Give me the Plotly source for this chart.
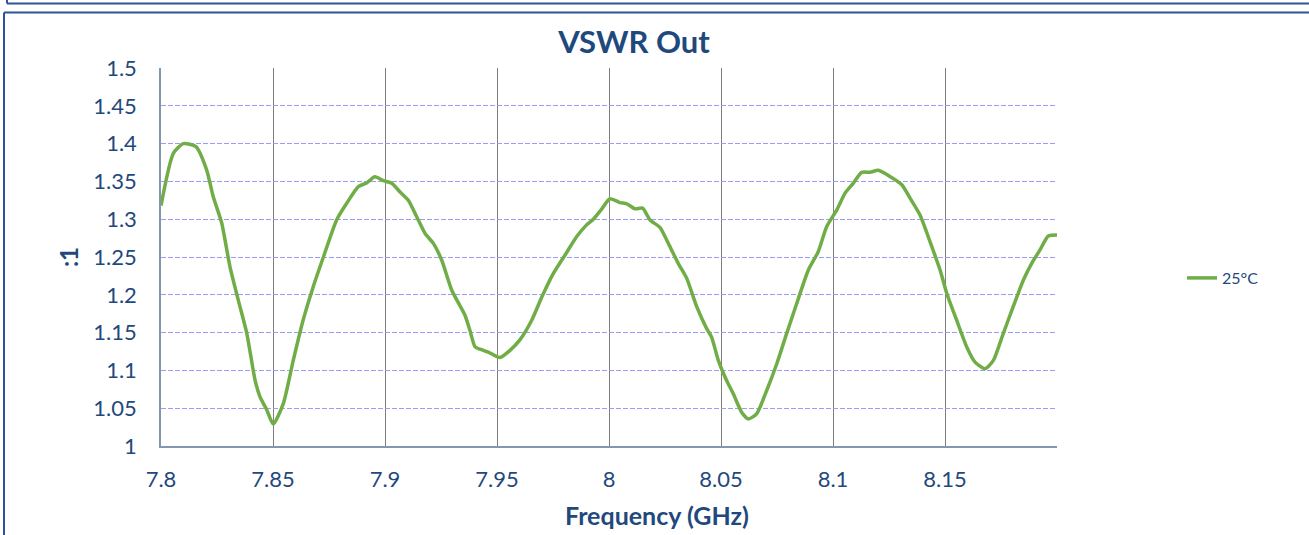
import plotly.graph_objects as go

# ---- data ----
freq_ghz = [7.8000, 7.8055, 7.8100, 7.8156, 7.8204, 7.8233, 7.8271, 7.8308, 7.8345, 7.8383,
            7.8420, 7.8442, 7.8472, 7.8501, 7.8546, 7.8591, 7.8635, 7.8680, 7.8725, 7.8784,
            7.8829, 7.8881, 7.8918, 7.8955, 7.8992, 7.9030, 7.9067, 7.9104, 7.9142, 7.9179,
            7.9216, 7.9253, 7.9298, 7.9357, 7.9379, 7.9402, 7.9424, 7.9469, 7.9513, 7.9558,
            7.9603, 7.9655, 7.9700, 7.9751, 7.9804, 7.9856, 7.9900, 7.9930, 7.9967, 8.0004,
            8.0049, 8.0079, 8.0116, 8.0150, 8.0183, 8.0228, 8.0272, 8.0309, 8.0347, 8.0392,
            8.0436, 8.0458, 8.0488, 8.0525, 8.0555, 8.0592, 8.0622, 8.0659, 8.0704, 8.0749,
            8.0793, 8.0838, 8.0890, 8.0934, 8.0972, 8.1017, 8.1054, 8.1091, 8.1128, 8.1165,
            8.1202, 8.1254, 8.1307, 8.1344, 8.1388, 8.1433, 8.1478, 8.1508, 8.1552, 8.1597,
            8.1634, 8.1679, 8.1716, 8.1760, 8.1804, 8.1850, 8.1887, 8.1924, 8.1961, 8.2000]
vswr_25c = [1.318, 1.387, 1.400, 1.396, 1.365, 1.330, 1.295, 1.237, 1.193, 1.149,
            1.087, 1.065, 1.048, 1.029, 1.056, 1.114, 1.167, 1.211, 1.250, 1.299,
            1.321, 1.343, 1.348, 1.356, 1.351, 1.3475, 1.336, 1.325, 1.303, 1.281,
            1.268, 1.246, 1.206, 1.173, 1.153, 1.131, 1.128, 1.123, 1.117, 1.1265,
            1.1407, 1.1664, 1.197, 1.228, 1.2527, 1.277, 1.2925, 1.300, 1.3133, 1.327,
            1.322, 1.3204, 1.3137, 1.3146, 1.299, 1.289, 1.2637, 1.2416, 1.2217, 1.184,
            1.1553, 1.144, 1.1133, 1.0867, 1.069, 1.0447, 1.0358, 1.0425, 1.0734, 1.1088,
            1.1487, 1.1885, 1.2327, 1.257, 1.2903, 1.3124, 1.3345, 1.3478, 1.362, 1.362,
            1.3646, 1.3566, 1.3456, 1.3279, 1.3058, 1.2704, 1.2327, 1.2018, 1.1664, 1.131,
            1.111, 1.1022, 1.1133, 1.1487, 1.184, 1.2195, 1.2416, 1.2593, 1.2779, 1.2792]
x_tick_vals = [7.8, 7.85, 7.9, 7.95, 8.0, 8.05, 8.1, 8.15]
x_tick_text = ["7.8", "7.85", "7.9", "7.95", "8", "8.05", "8.1", "8.15"]
y_tick_vals = [1.0, 1.05, 1.1, 1.15, 1.2, 1.25, 1.3, 1.35, 1.4, 1.45, 1.5]
y_tick_text = ["1", "1.05", "1.1", "1.15", "1.2", "1.25", "1.3", "1.35", "1.4", "1.45", "1.5"]
series_name = "25°C"
chart_title = "VSWR Out"
x_title = "Frequency (GHz)"
y_title = ":1"

# ---- styling ----
W, H = 1309, 535
L, R, T, B = 161, 1057, 68, 446
FONT = "Lato"
TXT = "#1F497D"
GREEN = "#70AD47"

fig = go.Figure()
fig.add_trace(go.Scatter(
    x=freq_ghz, y=vswr_25c, mode="lines", name=series_name,
    line=dict(color=GREEN, width=3.5, shape="spline", smoothing=0.6),
))

def px2x(px):
    return (px - L) / (R - L)

def py2y(py):
    return (B - py) / (B - T)

frame_color = "#2F5597"
shapes = [
    # previous chart box (bottom edge)
    dict(type="line", xref="paper", yref="paper", x0=px2x(7), x1=px2x(1320), y0=py2y(3.5), y1=py2y(3.5),
         line=dict(color=frame_color, width=2)),
    dict(type="line", xref="paper", yref="paper", x0=px2x(7), x1=px2x(7), y0=py2y(-5), y1=py2y(3.5),
         line=dict(color=frame_color, width=2)),
    # current chart box
    dict(type="line", xref="paper", yref="paper", x0=px2x(4), x1=px2x(1320), y0=py2y(12.5), y1=py2y(12.5),
         line=dict(color=frame_color, width=2)),
    dict(type="line", xref="paper", yref="paper", x0=px2x(4), x1=px2x(4), y0=py2y(12.5), y1=py2y(545),
         line=dict(color=frame_color, width=2)),
]

annotations = [
    dict(text=f"<b>{x_title}</b>", xref="paper", yref="paper", x=px2x(657), y=py2y(515),
         xanchor="center", yanchor="middle", showarrow=False,
         font=dict(size=25, color=TXT, family=FONT)),
]

fig.update_layout(
    width=W, height=H,
    margin=dict(l=L, r=W - R, t=T, b=H - B, pad=0),
    paper_bgcolor="white", plot_bgcolor="white",
    font=dict(family=FONT, color=TXT),
    title=dict(text=f"<b>{chart_title}</b>", x=634 / W, xref="container", xanchor="center",
               y=1 - 42 / H, yref="container", yanchor="middle",
               font=dict(size=31, color=TXT, family=FONT)),
    showlegend=True,
    legend=dict(x=px2x(1182), xanchor="left", y=py2y(278), yanchor="middle",
                font=dict(size=16, color=TXT, family=FONT), bgcolor="rgba(0,0,0,0)"),
    shapes=shapes,
    annotations=annotations,
    xaxis=dict(
        range=[7.8, 8.2], tickvals=x_tick_vals, ticktext=x_tick_text,
        showgrid=True, gridcolor="#7F7F7F", gridwidth=1,
        showline=True, linecolor="#8497B0", linewidth=1.5,
        ticks="", ticklabelstandoff=13, zeroline=False,
        tickfont=dict(size=22, color=TXT, family=FONT),
    ),
    yaxis=dict(
        range=[1.0, 1.5], tickvals=y_tick_vals, ticktext=y_tick_text,
        showgrid=True, gridcolor="#9C9CF8", gridwidth=1, griddash="5px,2px",
        showline=True, linecolor="#8497B0", linewidth=1.5,
        ticks="", ticklabelstandoff=18, zeroline=False,
        tickfont=dict(size=22, color=TXT, family=FONT),
        title=dict(text=f"<b>{y_title}</b>", font=dict(size=24, color=TXT, family=FONT), standoff=8),
    ),
)

fig.write_html("out.html", config={"displayModeBar": False},
               post_script="document.body.style.margin='0';document.body.style.overflow='hidden';")
